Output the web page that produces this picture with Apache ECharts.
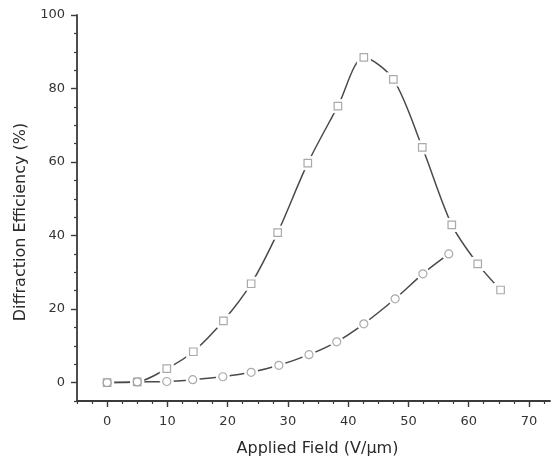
<!DOCTYPE html>
<html><head><meta charset="utf-8">
<script src="https://cdn.jsdelivr.net/npm/echarts@6/dist/echarts.min.js"></script>
<style>html,body{margin:0;padding:0;background:#fff}#c{width:551px;height:462px}</style>
</head><body><div id="c"></div>
<script>
const xSquare = [0, 5, 9.9, 14.3, 19.3, 23.9, 28.3, 33.3, 38.3, 42.6, 47.5, 52.3, 57.2, 61.5, 65.3];
const ySquare = [0, 0.2, 3.8, 8.4, 16.8, 26.9, 40.8, 59.7, 75.2, 88.5, 82.5, 64, 42.9, 32.3, 25.2];
const xCircle = [0, 5, 9.9, 14.2, 19.2, 23.9, 28.5, 33.5, 38.1, 42.6, 47.8, 52.4, 56.7];
const yCircle = [0, 0.2, 0.3, 0.8, 1.6, 2.8, 4.7, 7.6, 11.1, 16, 22.8, 29.6, 35];
const xMajor = [0, 10, 20, 30, 40, 50, 60, 70];
const xMinor = [-5, -2.5, 2.5, 5, 7.5, 12.5, 15, 17.5, 22.5, 25, 27.5, 32.5, 35, 37.5, 42.5, 45, 47.5, 52.5, 55, 57.5, 62.5, 65, 67.5, 72.5];
const yMajor = [0, 20, 40, 60, 80, 100];
const yMinor = [-5, 5, 10, 15, 25, 30, 35, 45, 50, 55, 65, 70, 75, 85, 90, 95];
const xTitle = 'Applied Field (V/\u03bcm)';
const yTitle = 'Diffraction Efficiency (%)';

const axisColor = '#3a3a3a';
const lineColor = '#4a4a4a';
const markColor = '#959595';
const font = 'DejaVu Sans, Verdana, sans-serif';

function pairs(xs, ys){ return xs.map((x,i)=>[x, ys[i]]); }

const X = {min:-5, max:73.5};
const Y = {min:-5, max:100};

const chart = echarts.init(document.getElementById('c'));
chart.setOption({
  animation:false,
  grid:{left:77, right:1, top:15, bottom:60, containLabel:false},
  xAxis:[
    {type:'value', min:X.min, max:X.max, position:'bottom',
     name:xTitle, nameLocation:'middle', nameGap:40,
     nameTextStyle:{fontFamily:font, fontSize:16, color:'#2a2a2a', padding:[0,0,0,8]},
     axisLine:{show:true, onZero:false, lineStyle:{color:axisColor, width:1.8}},
     axisTick:{show:true, customValues:xMajor, length:6, inside:false, lineStyle:{color:axisColor, width:1.4}},
     axisLabel:{show:true, customValues:xMajor, margin:14, fontFamily:font, fontSize:13, color:'#333'},
     splitLine:{show:false}},
    {type:'value', min:X.min, max:X.max, position:'bottom',
     axisLine:{show:false, onZero:false},
     axisTick:{show:true, customValues:xMinor, length:3, lineStyle:{color:axisColor, width:1.2}},
     axisLabel:{show:false}, splitLine:{show:false}}
  ],
  yAxis:[
    {type:'value', min:Y.min, max:Y.max, position:'left',
     name:yTitle, nameLocation:'middle', nameGap:46,
     nameTextStyle:{fontFamily:font, fontSize:16, color:'#2a2a2a', padding:[0,28,0,0]},
     axisLine:{show:true, onZero:false, lineStyle:{color:axisColor, width:1.8}},
     axisTick:{show:true, customValues:yMajor, length:6, lineStyle:{color:axisColor, width:1.4}},
     axisLabel:{show:true, customValues:yMajor, margin:12, fontFamily:font, fontSize:13, color:'#333'},
     splitLine:{show:false}},
    {type:'value', min:Y.min, max:Y.max, position:'left',
     axisLine:{show:false, onZero:false},
     axisTick:{show:true, customValues:yMinor, length:3, lineStyle:{color:axisColor, width:1.2}},
     axisLabel:{show:false}, splitLine:{show:false}}
  ],
  series:[
    {type:'line', data:pairs(xSquare, ySquare), smooth:0.3, symbol:'rect', symbolSize:13, showSymbol:true,
     itemStyle:{color:'#ffffff', borderColor:'#ffffff', borderWidth:1},
     lineStyle:{color:lineColor, width:1.5}, z:2},
    {type:'line', data:pairs(xCircle, yCircle), smooth:0.3, symbol:'circle', symbolSize:13, showSymbol:true,
     itemStyle:{color:'#ffffff', borderColor:'#ffffff', borderWidth:1},
     lineStyle:{color:lineColor, width:1.5}, z:2},
    {type:'scatter', data:pairs(xSquare, ySquare), symbol:'rect', symbolSize:7.5,
     itemStyle:{color:'#fff', borderColor:markColor, borderWidth:1.2}, z:5},
    {type:'scatter', data:pairs(xCircle, yCircle), symbol:'circle', symbolSize:8,
     itemStyle:{color:'#fff', borderColor:markColor, borderWidth:1.2}, z:6}
  ]
});
</script></body></html>
